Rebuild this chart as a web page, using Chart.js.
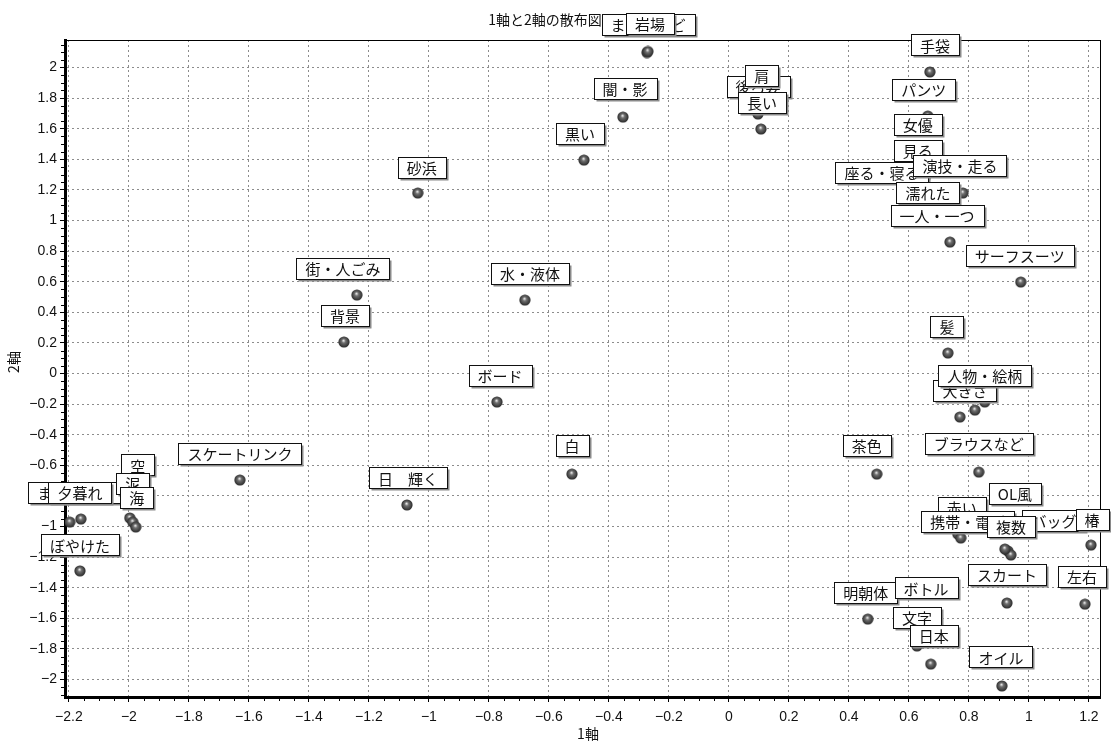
<!DOCTYPE html>
<html lang="ja">
<head>
<meta charset="utf-8">
<title>1軸と2軸の散布図</title>
<script src="https://cdn.jsdelivr.net/npm/chart.js@4.4.1/dist/chart.umd.min.js"></script>
<style>
  html, body { margin: 0; padding: 0; background: #fff; }
  #wrap { width: 1111px; height: 745px; }
</style>
</head>
<body>
<div id="wrap"><canvas id="scatter" width="1111" height="745"></canvas></div>
<script>
// 語と座標（1軸, 2軸）
const words = [
    'まわりなど', '岩場', '闇・影', '黒い', '砂浜', '街・人ごみ', '水・液体', '背景', 'ボード', '白',
    'スケートリンク', '日　輝く', 'まわりなど', '夕暮れ', '空', '泥', '海', 'ぼやけた',
    '後ろ姿', '肩', '長い', '手袋', 'パンツ', '女優', '見る', '座る・寝る', '演技・走る', '濡れた', '一人・一つ',
    'サーフスーツ', '髪', '', '大きさ', '人物・絵柄', 'ブラウスなど', '茶色',
    '赤い', '携帯・電話', 'バッグ', '複数', 'OL風', '椿', 'スカート', '左右',
    '明朝体', 'ボトル', '文字', '日本', 'オイル'
];
const axis1 = [
    -0.273, -0.27, -0.353, -0.483, -1.037, -1.24, -0.68, -1.283, -0.773, -0.523,
    -1.63, -1.073, -2.197, -2.16, -1.997, -1.987, -1.977, -2.163,
    0.097, 0.093, 0.107, 0.67, 0.663, 0.653, 0.653, 0.67, 0.78, 0.66, 0.737,
    0.973, 0.73, 0.77, 0.82, 0.853, 0.833, 0.493,
    0.763, 0.773, 0.93, 0.94, 0.92, 1.207, 0.927, 1.187,
    0.463, 0.627, 0.627, 0.673, 0.91
];
const axis2 = [
    2.098, 2.105, 1.676, 1.395, 1.18, 0.513, 0.48, 0.206, -0.186, -0.657,
    -0.696, -0.859, -0.971, -0.951, -0.944, -0.971, -1.003, -1.29,
    1.696, 1.761, 1.598, 1.971, 1.683, 1.461, 1.278, 1.134, 1.18, 0.99, 0.859,
    0.598, 0.134, -0.284, -0.239, -0.186, -0.644, -0.657,
    -1.049, -1.075, -1.16, -1.186, -1.147, -1.121, -1.5, -1.507,
    -1.605, -1.578, -1.781, -1.899, -2.042
];
const xTickValues = [-2.2, -2, -1.8, -1.6, -1.4, -1.2, -1, -0.8, -0.6, -0.4, -0.2, 0, 0.2, 0.4, 0.6, 0.8, 1, 1.2];
const yTickValues = [2, 1.8, 1.6, 1.4, 1.2, 1, 0.8, 0.6, 0.4, 0.2, 0, -0.2, -0.4, -0.6, -0.8, -1, -1.2, -1.4, -1.6, -1.8, -2];

// ラベル枠の位置（点からのずれ, px）
const labelShift = [
    [1, -28], [2, -28], [2, -29], [-4, -27], [4, -26], [-14, -27], [5, -27], [1, -27], [3, -27], [0, -29],
    [0, -27], [1, -27], [5, -30], [-1, -27], [8, -53], [0, -39], [1, -30], [0, -26],
    [0, -28], [5, -29], [1, -27], [5, -27], [-4, -27], [-7, -26], [-7, -28], [-48, -28], [-3, -28], [1, -30], [-13, -27],
    [-1, -27], [-1, -27], [0, 0], [-10, -20], [0, -27], [0, -29], [-10, -29],
    [4, -27], [7, -17], [46, -31], [0, -29], [10, -56], [1, -26], [0, -29], [-3, -28],
    [-2, -27], [9, -27], [0, -29], [3, -29], [-1, -29]
];

const fmt = v => String(Math.round(v * 10) / 10).replace('-', '−');
const tickFont = { family: '"Liberation Sans", Arial, sans-serif', size: 14 };

function makeBall() {
    const c = document.createElement('canvas');
    c.width = 12; c.height = 12;
    const g = c.getContext('2d');
    const grad = g.createRadialGradient(5.5, 4.5, 0.3, 6, 6, 6);
    grad.addColorStop(0, '#e6e6e6');
    grad.addColorStop(0.3, '#707070');
    grad.addColorStop(1, '#222');
    g.fillStyle = grad;
    g.beginPath();
    g.arc(6, 6, 5.6, 0, Math.PI * 2);
    g.fill();
    return c;
}

const frame = {
    id: 'frame',
    beforeDatasetsDraw(chart) {
        const { ctx, chartArea: a, scales } = chart;
        ctx.save();
        ctx.strokeStyle = '#000';
        ctx.lineWidth = 1;
        ctx.strokeRect(a.left + 0.5, a.top + 0.5, a.right - a.left, a.bottom - a.top);
        // 補助目盛
        ctx.beginPath();
        for (let k = -44; k <= 24; k++) {
            if (k % 4 === 0) continue;
            const px = Math.round(scales.x.getPixelForValue(k * 0.05)) + 0.5;
            ctx.moveTo(px, a.bottom + 1);
            ctx.lineTo(px, a.bottom + 4);
        }
        for (let k = -42; k <= 43; k++) {
            if (k % 4 === 0) continue;
            const py = Math.round(scales.y.getPixelForValue(k * 0.05)) + 0.5;
            ctx.moveTo(a.left - 1, py);
            ctx.lineTo(a.left - 4, py);
        }
        ctx.stroke();
        ctx.restore();
    },
    afterDraw(chart) {
        const ctx = chart.ctx;
        ctx.save();
        ctx.fillStyle = '#111';
        ctx.textAlign = 'center';
        ctx.textBaseline = 'middle';
        ctx.font = '14px "Noto Sans CJK JP"';
        ctx.fillText('1軸と2軸の散布図', 545, 20);
        ctx.fillText('1軸', 588, 734);
        ctx.translate(14, 362);
        ctx.rotate(-Math.PI / 2);
        ctx.fillText('2軸', 0, 0);
        ctx.restore();
    }
};

const labelBoxes = {
    id: 'labelBoxes',
    afterDatasetsDraw(chart) {
        const ctx = chart.ctx;
        const meta = chart.getDatasetMeta(0);
        ctx.save();
        ctx.font = '15px "Noto Sans CJK JP"';
        ctx.textAlign = 'center';
        ctx.textBaseline = 'middle';
        meta.data.forEach((pt, i) => {
            const txt = words[i];
            if (!txt) return;
            const [dx, dy] = labelShift[i];
            const cx = pt.x + dx, cy = pt.y + dy;
            const w = Math.round(ctx.measureText(txt).width + 18), h = 21;
            const x0 = Math.round(cx - w / 2) + 0.5, y0 = Math.round(cy - h / 2) + 0.5;
            ctx.fillStyle = '#8a8a8a';
            ctx.fillRect(x0 + 2, y0 + 2, w, h);
            ctx.fillStyle = '#fff';
            ctx.fillRect(x0, y0, w, h);
            ctx.strokeStyle = '#111';
            ctx.lineWidth = 1;
            ctx.strokeRect(x0, y0, w, h);
            ctx.fillStyle = '#111';
            ctx.fillText(txt, cx, cy + 1);
        });
        ctx.restore();
    }
};

new Chart(document.getElementById('scatter'), {
    type: 'scatter',
    data: {
        datasets: [{
            data: words.map((w, i) => ({ x: axis1[i], y: axis2[i] })),
            pointStyle: makeBall(),
            pointRadius: 6,
            pointHoverRadius: 6
        }]
    },
    options: {
        responsive: false,
        animation: false,
        devicePixelRatio: 1,
        layout: { padding: { top: 40, right: 11, left: 0, bottom: 0 } },
        plugins: { legend: { display: false }, tooltip: { enabled: false } },
        scales: {
            x: {
                type: 'linear',
                min: -2.213, max: 1.237,
                afterBuildTicks: s => { s.ticks = xTickValues.map(v => ({ value: v })); },
                afterFit: s => { s.height = 48; },
                ticks: { callback: v => fmt(v), font: tickFont, color: '#111', padding: 7, autoSkip: false, maxRotation: 0 },
                grid: { color: '#8c8c8c', lineWidth: 1, tickColor: '#000', tickLength: 5, tickBorderDash: [] },
                border: { color: '#000', width: 3, dash: [2, 3] }
            },
            y: {
                type: 'linear',
                min: -2.114, max: 2.18,
                afterBuildTicks: s => { s.ticks = yTickValues.map(v => ({ value: v })); },
                afterFit: s => { s.width = 65; },
                ticks: { callback: v => fmt(v), font: tickFont, color: '#111', padding: 3, autoSkip: false },
                grid: { color: '#8c8c8c', lineWidth: 1, tickColor: '#000', tickLength: 5, tickBorderDash: [] },
                border: { color: '#000', width: 3, dash: [2, 3] }
            }
        }
    },
    plugins: [frame, labelBoxes]
});
</script>
</body>
</html>
